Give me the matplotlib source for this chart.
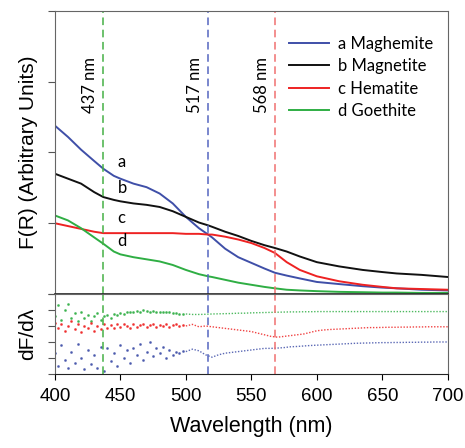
import numpy as np
import matplotlib.pyplot as plt

plt.rcParams['font.family'] = ['Liberation Sans', 'DejaVu Sans']

# F(R) spectra (arbitrary units, panel 0..4)
wl = [400, 410, 420, 430, 437, 445, 450, 460, 470, 480, 490, 500, 510, 517,
      520, 530, 540, 550, 560, 568, 577, 587, 600, 617, 635, 650, 661, 680, 700]
maghemite = [2.38, 2.22, 2.04, 1.88, 1.77, 1.67, 1.63, 1.56, 1.51, 1.42, 1.28, 1.09, 0.93, 0.84,
             0.80, 0.64, 0.52, 0.44, 0.36, 0.30, 0.26, 0.22, 0.17, 0.14, 0.11, 0.09, 0.08, 0.06, 0.05]
magnetite = [1.70, 1.63, 1.56, 1.44, 1.37, 1.33, 1.31, 1.28, 1.26, 1.23, 1.17, 1.09, 1.01, 0.97,
             0.95, 0.88, 0.82, 0.75, 0.69, 0.65, 0.60, 0.53, 0.45, 0.39, 0.34, 0.31, 0.29, 0.27, 0.24]
hematite = [1.00, 0.96, 0.92, 0.88, 0.86, 0.86, 0.86, 0.86, 0.86, 0.86, 0.86, 0.85, 0.85, 0.84,
            0.84, 0.81, 0.77, 0.72, 0.65, 0.58, 0.45, 0.34, 0.25, 0.18, 0.13, 0.10, 0.08, 0.07, 0.06]
goethite = [1.11, 1.04, 0.93, 0.80, 0.71, 0.60, 0.56, 0.52, 0.49, 0.46, 0.41, 0.34, 0.28, 0.25,
            0.24, 0.20, 0.16, 0.13, 0.10, 0.08, 0.06, 0.05, 0.04, 0.03, 0.025, 0.02, 0.02, 0.015, 0.015]

# derivative panel (offset traces, panel 0..5)
# noisy start, 2.5 nm steps from 400 to 497.5
wl_n = [400 + 2.5 * i for i in range(40)]
dn_goethite = [3.6, 4.3, 3.4, 4.0, 4.4, 3.5, 3.8, 3.3, 3.9, 3.5, 3.7, 3.3, 3.6, 3.8, 3.4, 3.6,
               3.7, 3.5, 3.75, 3.7, 3.8, 3.75, 3.85, 3.9, 3.85, 3.95, 3.9, 4.0, 3.95, 3.9,
               3.95, 3.9, 3.88, 3.9, 3.85, 3.85, 3.8, 3.82, 3.78, 3.78]
dn_hematite = [3.2, 2.9, 3.1, 2.7, 3.0, 3.3, 2.8, 3.1, 2.6, 3.0, 2.9, 3.2, 2.7, 3.0, 2.8, 3.1,
               2.9, 3.05, 2.85, 3.1, 2.95, 3.15, 3.0, 2.9, 3.1, 2.95, 3.05, 3.15, 2.95, 3.05,
               3.1, 2.95, 3.05, 3.0, 3.1, 2.95, 3.05, 3.1, 3.0, 3.05]
dn_maghemite = [1.3, 0.5, 1.8, 0.9, 0.4, 1.4, 0.7, 1.9, 1.0, 0.3, 1.5, 0.6, 1.2, 0.4, 1.7, 0.2,
                1.6, 0.8, 1.3, 0.5, 1.8, 1.0, 1.5, 0.7, 1.6, 1.2, 1.9, 0.9, 1.4, 2.0,
                1.1, 1.6, 1.3, 1.7, 1.0, 1.5, 1.2, 1.4, 1.3, 1.45]
# smoother part, 5 nm steps from 500 to 700
wl_s = list(range(500, 705, 5))
ds_goethite = [3.75, 3.72, 3.72, 3.73, 3.75, 3.76, 3.77, 3.78, 3.8, 3.8, 3.82,
               3.83, 3.84, 3.85, 3.86, 3.87, 3.88, 3.88, 3.89, 3.89, 3.9, 3.9, 3.9, 3.9, 3.9, 3.9,
               3.9, 3.9, 3.9, 3.9, 3.9, 3.9, 3.9, 3.9, 3.9, 3.9, 3.9, 3.9, 3.9, 3.9, 3.9]
ds_hematite = [3.0, 3.1, 2.95, 3.0, 2.95, 2.9, 2.85, 2.8, 2.75, 2.7, 2.65,
               2.55, 2.45, 2.35, 2.3, 2.35, 2.4, 2.45, 2.5, 2.6, 2.7, 2.75, 2.78, 2.8, 2.82, 2.84,
               2.86, 2.88, 2.9, 2.9, 2.91, 2.92, 2.92, 2.93, 2.93, 2.94, 2.94, 2.95, 2.95, 2.95, 2.95]
ds_maghemite = [1.4, 1.55, 1.45, 1.2, 1.05, 1.2, 1.3, 1.35, 1.4, 1.45, 1.5,
                1.55, 1.6, 1.6, 1.62, 1.65, 1.7, 1.72, 1.75, 1.78, 1.8, 1.82, 1.84, 1.86, 1.88, 1.9,
                1.92, 1.93, 1.94, 1.95, 1.96, 1.96, 1.97, 1.97, 1.98, 1.98, 1.99, 1.99, 2.0, 2.0, 2.0]

names = ['a Maghemite', 'b Magnetite', 'c Hematite', 'd Goethite']
colors = ['#3f4fa8', '#111111', '#ee2222', '#2fae44']
peaks = [437, 517, 568]
peak_colors = ['#45b045', '#5566c0', '#f07070']
calib = ['Lato', 'DejaVu Sans']

fig = plt.figure(figsize=(4.65, 4.48), dpi=100)
ax1 = fig.add_axes([0.118, 0.3438, 0.845, 0.6316])
ax2 = fig.add_axes([0.118, 0.1652, 0.845, 0.1786])

for y, c, n in zip([maghemite, magnetite, hematite, goethite], colors, names):
    ax1.plot(wl, y, color=c, lw=1.4, label=n)

dcols = [colors[3], colors[2], colors[0]]
for yn, ys, c in zip([dn_goethite, dn_hematite, dn_maghemite],
                     [ds_goethite, ds_hematite, ds_maghemite], dcols):
    ax2.plot(wl_n, yn, ls='none', marker='.', ms=2.0, color=c, alpha=0.75)
    ax2.plot(wl_s, ys, color=c, lw=1.0, ls=(0, (1, 1.2)), alpha=0.85)

for p, c in zip(peaks, peak_colors):
    for ax in (ax1, ax2):
        ax.axvline(p, color=c, lw=1.1, ls=(0, (5, 3)))
    ax1.text(p - 4, 2.95, f'{p} nm', rotation=90, ha='right', va='center',
             fontsize=12, family=calib)

for lbl, xx, yy in [('a', 448, 1.80), ('b', 448, 1.43), ('c', 448, 1.00), ('d', 448, 0.68)]:
    ax1.text(xx, yy, lbl, fontsize=12, family=calib)

ax1.legend(loc='upper right', bbox_to_anchor=(1.0, 0.965), frameon=False, handlelength=2.4,
           labelspacing=0.38, handletextpad=0.5, prop={'family': calib, 'size': 12})

ax1.set_xlim(400, 700)
ax1.set_ylim(0, 4)
ax1.set_xticks([])
ax1.set_yticks([0, 1, 2, 3, 4])
ax1.set_yticklabels([])
ax1.set_ylabel('F(R) (Arbitrary Units)', fontsize=15)

ax2.set_xlim(400, 700)
ax2.set_ylim(0, 5)
ax2.set_yticks([0, 1, 2, 3, 4, 5])
ax2.set_yticklabels([])
ax2.set_xticks(range(400, 701, 50))
ax2.tick_params(axis='x', labelsize=13.5, length=4, pad=6)
ax2.set_ylabel('dF/d\u03bb', fontsize=15)
ax2.set_xlabel('Wavelength (nm)', fontsize=15.5, labelpad=8)

for ax in (ax1, ax2):
    ax.tick_params(axis='y', length=5, color='#555555')
    for s in ('top', 'right', 'left'):
        ax.spines[s].set_color('#666666')
    ax.spines['bottom'].set_color('#222222')
ax1.spines['bottom'].set_linewidth(1.2)

fig.savefig('out.png', dpi=100)
